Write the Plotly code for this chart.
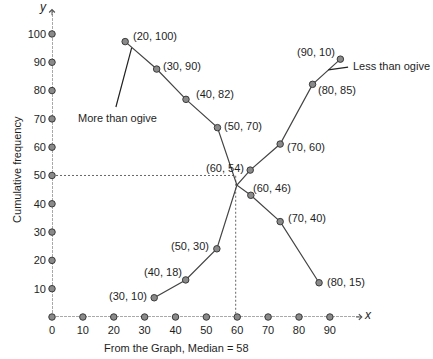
import plotly.graph_objects as go

# --- data ---
more_x = [23.7, 33.9, 43.4, 53.6, 64.4, 73.9, 86.5]
more_y = [97.3, 87.6, 76.9, 66.9, 43.0, 33.7, 12.1]
more_labels = ["(20, 100)", "(30, 90)", "(40, 82)", "(50, 70)", "(60, 46)", "(70, 40)", "(80, 15)"]
more_lab_x = [33.4, 42.1, 52.8, 61.9, 71.3, 82.7, 95.3]
more_lab_y = [99.3, 88.7, 78.8, 67.5, 45.6, 35.0, 12.4]

less_x = [33.1, 43.3, 53.4, 64.2, 73.9, 84.4, 93.4]
less_y = [6.8, 13.1, 24.1, 51.9, 61.1, 82.2, 91.1]
less_labels = ["(30, 10)", "(40, 18)", "(50, 30)", "(60, 54)", "(70, 60)", "(80, 85)", "(90, 10)"]
less_lab_x = [24.6, 36.0, 44.7, 56.1, 82.3, 92.4, 85.6]
less_lab_y = [7.4, 15.9, 25.1, 52.7, 60.1, 80.2, 93.6]

cross_x, cross_y = 59.9, 46.6          # where the two ogives meet
median_x, median_y = 59.5, 50          # dashed guide lines

x_ticks = [0, 10, 20, 30, 40, 50, 60, 70, 80, 90]
y_ticks = [10, 20, 30, 40, 50, 60, 70, 80, 90, 100]

more_leader_x = [20.7, 25.8]
more_leader_y = [74.2, 95.1]
less_leader_x = [95.9, 89.5]
less_leader_y = [88.3, 87.3]

FONT = "Liberation Sans, Arial, sans-serif"
TXT = "#1e1e1e"
LINE = "#444444"
MK = dict(size=6.5, color="#8a8a8a", line=dict(color="#3a3a3a", width=1))

fig = go.Figure()

# axes lines
fig.add_trace(go.Scatter(x=[0, 100.4], y=[0, 0], mode="lines",
                         line=dict(color="#555", width=1, dash="3px,1px"),
                         hoverinfo="skip", showlegend=False, cliponaxis=False))
fig.add_trace(go.Scatter(x=[0, 0], y=[0, 108.5], mode="lines",
                         line=dict(color="#555", width=1, dash="3px,1px"),
                         hoverinfo="skip", showlegend=False, cliponaxis=False))

# median guide lines
fig.add_trace(go.Scatter(x=[0, median_x, median_x], y=[median_y, median_y, 0], mode="lines",
                         line=dict(color="#666", width=1, dash="2px,2px"),
                         hoverinfo="skip", showlegend=False))

# tick dots
fig.add_trace(go.Scatter(x=x_ticks, y=[0] * len(x_ticks), mode="markers",
                         marker=MK, showlegend=False, cliponaxis=False, hoverinfo="skip"))
fig.add_trace(go.Scatter(x=[0] * len(y_ticks), y=y_ticks, mode="markers",
                         marker=MK, showlegend=False, cliponaxis=False, hoverinfo="skip"))

# ogive lines (pass through the crossing point)
fig.add_trace(go.Scatter(x=more_x[:4] + [cross_x] + more_x[4:],
                         y=more_y[:4] + [cross_y] + more_y[4:],
                         mode="lines", line=dict(color=LINE, width=1.2),
                         showlegend=False, hoverinfo="skip"))
fig.add_trace(go.Scatter(x=less_x[:3] + [cross_x] + less_x[3:],
                         y=less_y[:3] + [cross_y] + less_y[3:],
                         mode="lines", line=dict(color=LINE, width=1.2),
                         showlegend=False, hoverinfo="skip"))
fig.add_trace(go.Scatter(x=more_x, y=more_y, mode="markers", marker=MK, showlegend=False))
fig.add_trace(go.Scatter(x=less_x, y=less_y, mode="markers", marker=MK, showlegend=False))

# leaders
fig.add_trace(go.Scatter(x=more_leader_x, y=more_leader_y, mode="lines",
                         line=dict(color="#222", width=1.2), showlegend=False, hoverinfo="skip"))
fig.add_trace(go.Scatter(x=less_leader_x, y=less_leader_y, mode="lines",
                         line=dict(color="#222", width=1.2), showlegend=False, hoverinfo="skip",
                         cliponaxis=False))

F = dict(size=11, color=TXT, family=FONT)
C = dict(xanchor="center", yanchor="middle", showarrow=False)
ann = []
for t, x, y in zip(more_labels + less_labels, more_lab_x + less_lab_x, more_lab_y + less_lab_y):
    ann.append(dict(x=x, y=y, text=t, font=F, **C))
ann.append(dict(x=21.1, y=70.3, text="More than ogive", font=F, **C))
ann.append(dict(xref="paper", yref="paper", x=1.067, y=0.792, text="Less than ogive",
                font=F, **C))
ann.append(dict(xref="paper", yref="paper", x=-0.110, y=0.464, text="Cumulative frequency",
                textangle=-90, font=F, **C))
ann.append(dict(xref="paper", yref="paper", x=0.393, y=-0.098,
                text="From the Graph, Median = 58", font=F, **C))
ann.append(dict(x=102.2, y=0.6, text="<i>x</i>", font=dict(size=12, color=TXT, family=FONT), **C))
ann.append(dict(xref="paper", yref="paper", x=-0.029, y=0.978, text="<i>y</i>",
                font=dict(size=12, color=TXT, family=FONT), **C))
# arrow heads
ann.append(dict(x=100.6, y=0, ax=-8, ay=0, showarrow=True, arrowhead=4, arrowsize=1.1,
                arrowwidth=1, arrowcolor="#555", text=""))
ann.append(dict(x=0, y=108.9, ax=0, ay=8, showarrow=True, arrowhead=4, arrowsize=1.1,
                arrowwidth=1, arrowcolor="#555", text=""))

fig.update_layout(
    width=433, height=359, autosize=False,
    margin=dict(l=52, r=63, t=0, b=42),
    paper_bgcolor="white", plot_bgcolor="white",
    annotations=ann,
    font=dict(family=FONT, size=11, color=TXT),
    xaxis=dict(range=[0, 103], tickvals=x_ticks, showgrid=False, zeroline=False,
               showline=False, ticks="", ticklabelstandoff=5,
               tickfont=dict(size=11, color=TXT), fixedrange=True),
    yaxis=dict(range=[0, 112], tickvals=y_ticks, showgrid=False, zeroline=False,
               showline=False, ticks="", ticklabelstandoff=5,
               tickfont=dict(size=11, color=TXT), fixedrange=True),
)

fig.write_html("out.html", config={"displayModeBar": False, "staticPlot": True},
               post_script="document.body.style.margin='0px';")
